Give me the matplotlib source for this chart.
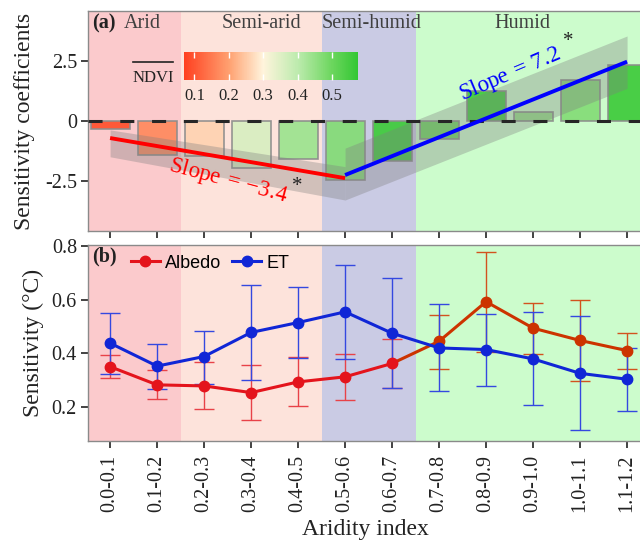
import numpy as np
import matplotlib
matplotlib.use("Agg")
import matplotlib.pyplot as plt
from matplotlib.colors import LinearSegmentedColormap, Normalize
from matplotlib.colorbar import ColorbarBase
from matplotlib.lines import Line2D

# ---------------- data ----------------
categories = ["0.0-0.1", "0.1-0.2", "0.2-0.3", "0.3-0.4", "0.4-0.5", "0.5-0.6",
              "0.6-0.7", "0.7-0.8", "0.8-0.9", "0.9-1.0", "1.0-1.1", "1.1-1.2"]
coef = [-0.33, -1.42, -1.47, -1.97, -1.58, -2.46, -1.68, -0.76, 1.25, 0.39, 1.71, 2.34]
ndvi = [0.09, 0.17, 0.26, 0.36, 0.44, 0.47, 0.56, 0.50, 0.56, 0.45, 0.47, 0.56]

# regression fits (category index range, fitted end values, band limits)
red_x = [0, 5]
red_fit = [-0.71, -2.38]
red_upper = [-0.37, -1.90]
red_lower = [-1.49, -3.29]
blue_x = [5, 11]
blue_fit = [-2.25, 2.47]
blue_upper = [-1.13, 3.54]
blue_lower = [-3.29, 1.36]
red_slope = "3.4"
blue_slope = "7.2"

albedo = [0.350, 0.282, 0.278, 0.253, 0.293, 0.312, 0.362, 0.445, 0.593, 0.494, 0.448, 0.410]
albedo_hi = [0.394, 0.337, 0.366, 0.356, 0.385, 0.398, 0.453, 0.543, 0.777, 0.589, 0.599, 0.475]
albedo_lo = [0.306, 0.228, 0.190, 0.152, 0.203, 0.225, 0.270, 0.343, 0.406, 0.398, 0.297, 0.341]
et = [0.438, 0.352, 0.388, 0.478, 0.515, 0.555, 0.475, 0.420, 0.414, 0.379, 0.325, 0.303]
et_hi = [0.549, 0.433, 0.483, 0.655, 0.649, 0.731, 0.681, 0.584, 0.546, 0.555, 0.540, 0.420]
et_lo = [0.324, 0.268, 0.287, 0.300, 0.381, 0.379, 0.270, 0.259, 0.278, 0.206, 0.112, 0.186]

zones = ["Arid", "Semi-arid", "Semi-humid", "Humid"]
zone_edges = [-1.0, 1.5, 4.5, 6.5, 12.0]
zone_colors = ["#FBCACC", "#FDE3DB", "#CACBE4", "#CCFCCC"]

ndvi_ticks = [0.1, 0.2, 0.3, 0.4, 0.5]

# ---------------- style ----------------
plt.rcParams["font.family"] = ["Liberation Serif", "DejaVu Serif"]
plt.rcParams["axes.unicode_minus"] = False
plt.rcParams["mathtext.fontset"] = "custom"
plt.rcParams["mathtext.rm"] = "Liberation Serif"
plt.rcParams["mathtext.it"] = "Liberation Serif:italic"

W, H = 640, 544
fig = plt.figure(figsize=(6.4, 5.44), dpi=100)

def fx(px):
    return px / W

def fy(py):
    return 1 - py / H

x = np.arange(len(categories))
xlim = (-0.47, -0.47 + 554 / 47)

ax_a = fig.add_axes([fx(88), fy(231), 554 / W, 220 / H])
ax_b = fig.add_axes([fx(88), fy(441), 554 / W, 196 / H])

for ax in (ax_a, ax_b):
    for lo, hi, c in zip(zone_edges[:-1], zone_edges[1:], zone_colors):
        ax.axvspan(lo, hi, color=c, lw=0, zorder=0)
    ax.set_xlim(*xlim)
    for s in ax.spines.values():
        s.set_color("#8a8a8a")
        s.set_linewidth(1.0)
    ax.tick_params(axis="both", direction="out", length=5, width=1.2,
                   color="#222222", labelcolor="#222222", labelsize=14.5, pad=3)
    ax.set_xticks(x)

# ---------------- panel a ----------------
cmap = LinearSegmentedColormap.from_list(
    "ndvi",
    [((0.07 - 0.07) / 0.505, "#FF4020"),
     ((0.2 - 0.07) / 0.505, "#FFA070"),
     ((0.3 - 0.07) / 0.505, "#FFF4DC"),
     ((0.4 - 0.07) / 0.505, "#BDEBAE"),
     ((0.5 - 0.07) / 0.505, "#6CD65E"),
     (1.0, "#33C733")])
norm = Normalize(vmin=0.07, vmax=0.575)

ax_a.bar(x, coef, width=0.83, color=[cmap(norm(v)) for v in ndvi], alpha=0.92,
         edgecolor="#8c8c8c", linewidth=1.2, zorder=2)
ax_a.fill_between(red_x, red_lower, red_upper, color="#7f7f7f", alpha=0.35, lw=0, zorder=3)
ax_a.fill_between(blue_x, blue_lower, blue_upper, color="#7f7f7f", alpha=0.35, lw=0, zorder=3)
ax_a.axhline(0, color="#262626", lw=2.2, dashes=(4.6, 5.8), zorder=4)
ax_a.plot(red_x, red_fit, color="#FF0000", lw=2.8, zorder=5, solid_capstyle="butt")
ax_a.plot(blue_x, blue_fit, color="#0000FF", lw=2.8, zorder=5, solid_capstyle="butt")

ax_a.text(2.52, -2.5, r"$\mathrm{Slope}\:=\:-\mathit{" + red_slope + "}$", color="#FF0000",
          fontsize=16.5, rotation=-15, ha="center", va="center", rotation_mode="anchor", zorder=6)
ax_a.text(3.98, -2.72, "*", color="#222222", fontsize=15, ha="center", va="center", zorder=6)
ax_a.text(8.5, 1.96, r"$\mathrm{Slope}\:=\:\mathit{" + blue_slope + "}$", color="#0000FF",
          fontsize=16.5, rotation=23, ha="center", va="center", rotation_mode="anchor", zorder=6)
ax_a.text(9.74, 3.3, "*", color="#222222", fontsize=15, ha="center", va="center", zorder=6)

ax_a.set_ylim(-4.58, 4.58)
ax_a.set_yticks([-2.5, 0, 2.5])
ax_a.set_yticklabels(["-2.5", "0", "2.5"])
ax_a.set_xticklabels([])
ax_a.set_ylabel("Sensitivity coefficients", fontsize=17, color="#222222")
ax_a.yaxis.set_label_coords(-0.096, 0.5)

# zone titles
fig.text(fx(92), fy(23), "(a)", fontsize=14.5, fontweight="bold", color="#222222", ha="left", va="center")
fig.text(fx(124), fy(23), zones[0], fontsize=14.5, color="#404040", ha="left", va="center")
fig.text(fx(261), fy(23), zones[1], fontsize=14.5, color="#404040", ha="center", va="center")
fig.text(fx(372), fy(23), zones[2], fontsize=14.5, color="#404040", ha="center", va="center")
fig.text(fx(522), fy(23), zones[3], fontsize=14.5, color="#404040", ha="center", va="center")

# colorbar
cax = fig.add_axes([fx(184), fy(79.5), 174 / W, 27 / H])
cb = ColorbarBase(cax, cmap=cmap, norm=norm, orientation="horizontal")
cb.outline.set_visible(False)
cb.set_ticks(ndvi_ticks)
cb.set_ticklabels([f"{t:.1f}" for t in ndvi_ticks])
cax.minorticks_off()
cax.tick_params(axis="x", direction="in", top=True, bottom=True, length=4, width=1,
                color="white", labelcolor="#222222", labelsize=12, pad=6)
fig.text(fx(153), fy(77.5), "NDVI", fontsize=12, color="#222222", ha="center", va="center")
fig.add_artist(Line2D([fx(132.7), fx(173.3)], [fy(61.7), fy(61.7)], color="#222222", lw=1.2))

# ---------------- panel b ----------------
alb_colors = ["#E4141C"] * 7 + ["#CC3300"] * 5
alb_err_colors = ["#E84248"] * 7 + ["#D2521E"] * 5
for i in range(len(x)):
    ax_b.errorbar(x[i], albedo[i], yerr=[[albedo[i] - albedo_lo[i]], [albedo_hi[i] - albedo[i]]],
                  fmt="none", ecolor=alb_err_colors[i], elinewidth=1.0, capsize=7, capthick=1.0, zorder=3)
for i in range(len(x) - 1):
    ax_b.plot(x[i:i + 2], albedo[i:i + 2], color=alb_colors[i + 1], lw=2.2, zorder=4,
              solid_capstyle="round")
for i in range(len(x)):
    ax_b.plot(x[i], albedo[i], "o", color=alb_colors[i], ms=7.5, zorder=5)

et_col = "#1026D6"
ax_b.errorbar(x, et, yerr=[np.array(et) - np.array(et_lo), np.array(et_hi) - np.array(et)],
              fmt="none", ecolor="#3448E0", elinewidth=1.0, capsize=7, capthick=1.0, zorder=3)
ax_b.plot(x, et, "-o", color=et_col, lw=2.2, ms=7.5, zorder=5)

ax_b.set_ylim(0.072, 0.805)
ax_b.set_yticks([0.2, 0.4, 0.6, 0.8])
ax_b.set_yticklabels(["0.2", "0.4", "0.6", "0.8"])
ax_b.set_xticklabels(categories, rotation=90)
ax_b.tick_params(axis="x", pad=5)
ax_b.set_ylabel("Sensitivity (°C)", fontsize=17, color="#222222")
ax_b.yaxis.set_label_coords(-0.080, 0.5)
ax_b.set_xlabel("Aridity index", fontsize=17, color="#222222", labelpad=5)

fig.text(fx(92), fy(256), "(b)", fontsize=14.5, fontweight="bold", color="#222222", ha="left", va="center")
handles = [Line2D([], [], color="#E4141C", marker="o", lw=2.2, ms=7.5),
           Line2D([], [], color=et_col, marker="o", lw=2.2, ms=7.5)]
fig.legend(handles, ["Albedo", "ET"], loc="center left", bbox_to_anchor=(fx(131), fy(263)),
           bbox_transform=fig.transFigure, ncol=2, frameon=False, borderpad=0, borderaxespad=0,
           handlelength=1.6, handletextpad=0.3, columnspacing=0.6,
           prop={"family": ["Liberation Sans", "DejaVu Sans"], "size": 13})

fig.savefig("out.png", dpi=100)
